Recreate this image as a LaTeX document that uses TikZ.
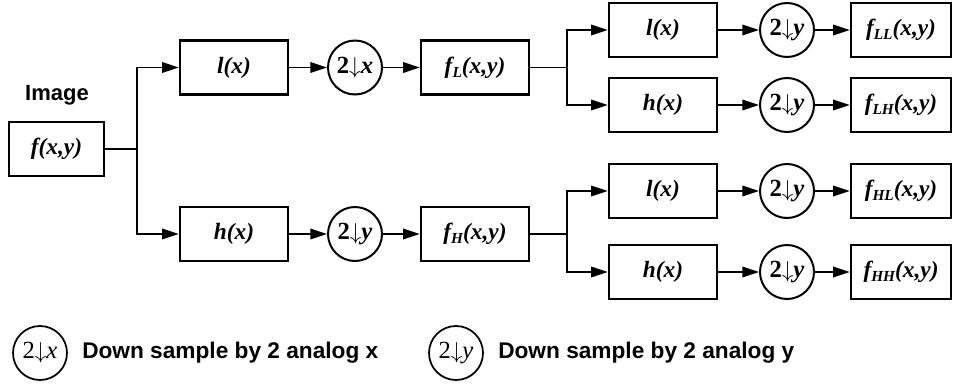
\documentclass[tikz,border=0pt]{standalone}
\usepackage{fontspec}
\setmainfont{Liberation Serif}
\newfontfamily\timesfont{Liberation Serif}[BoldItalicFont={Liberation Serif Bold Italic}]
\newfontfamily\arialfont{Liberation Sans}
\usetikzlibrary{arrows.meta,calc}
\newcommand{\labelfont}{\timesfont\fontsize{17.5}{19}\selectfont\bfseries}
\newcommand{\rondfont}{\timesfont\fontsize{18.5}{20}\selectfont}
\newcommand{\indice}[1]{\raisebox{-0.4ex}{\fontsize{11.5}{12}\selectfont #1}}

\begin{document}
\begin{tikzpicture}[x=0.75pt, y=-0.75pt,
    bloc/.style={draw, line width=2pt, minimum width=81pt, minimum height=40.5pt, inner sep=0pt, font=\labelfont\itshape},
    rond/.style={draw, circle, line width=1.5pt, minimum size=40.5pt, inner sep=0pt, font=\rondfont\bfseries},
    fleche/.style={line width=1pt, -{Triangle[length=12.5pt,width=8pt]}},
    trait/.style={line width=1pt},
    legende/.style={font=\arialfont\bfseries\fontsize{17}{19}\selectfont, anchor=west, inner sep=0pt}]
    \useasboundingbox (0,0) rectangle (953,383);

    % Entree
    \node[font=\arialfont\bfseries\fontsize{16.5}{18}\selectfont] (image) at (57,95) {Image};
    \node[bloc, minimum width=71.25pt] (f) at (56.5,149) {f(x,y)};
    \coordinate (k0) at (137,149);

    % Branche haute
    \node[bloc] (l1) at (234,67.5) {l(x)};
    \node[rond] (d1) at (355,67.5) {2$\downarrow$\textit{x}};
    \node[bloc] (fl) at (475,67.5) {f\indice{L}(x,y)};
    \coordinate (k1) at (567,67.5);

    % Branche basse
    \node[bloc] (h1) at (234,234) {h(x)};
    \node[rond] (d2) at (355,234) {2$\downarrow$\textit{y}};
    \node[bloc] (fh) at (475,234) {f\indice{H}(x,y)};
    \coordinate (k2) at (567,234);

    % Sorties
    \node[bloc] (ll) at (663,30) {l(x)};
    \node[rond] (dll) at (787,30) {2$\downarrow$\textit{y}};
    \node[bloc, minimum width=75pt] (fll) at (901,30) {f\indice{LL}(x,y)};
    \node[bloc] (lh) at (663,105) {h(x)};
    \node[rond] (dlh) at (787,105) {2$\downarrow$\textit{y}};
    \node[bloc, minimum width=75pt] (flh) at (901,105) {f\indice{LH}(x,y)};
    \node[bloc] (hl) at (663,191) {l(x)};
    \node[rond] (dhl) at (787,191) {2$\downarrow$\textit{y}};
    \node[bloc, minimum width=75pt] (fhl) at (901,191) {f\indice{HL}(x,y)};
    \node[bloc] (hh) at (663,272) {h(x)};
    \node[rond] (dhh) at (787,272) {2$\downarrow$\textit{y}};
    \node[bloc, minimum width=75pt] (fhh) at (901,272) {f\indice{HH}(x,y)};

    % Connexions
    \draw[trait] (f) -- (k0);
    \draw[fleche] (k0) |- (l1);
    \draw[fleche] (k0) |- (h1);
    \draw[fleche] (l1) -- (d1);
    \draw[fleche] (d1) -- (fl);
    \draw[fleche] (h1) -- (d2);
    \draw[fleche] (d2) -- (fh);
    \draw[trait] (fl) -- (k1);
    \draw[trait] (fh) -- (k2);
    \draw[fleche] (k1) |- (ll);
    \draw[fleche] (k1) |- (lh);
    \draw[fleche] (k2) |- (hl);
    \draw[fleche] (k2) |- (hh);
    \draw[fleche] (ll) -- (dll);
    \draw[fleche] (dll) -- (fll);
    \draw[fleche] (lh) -- (dlh);
    \draw[fleche] (dlh) -- (flh);
    \draw[fleche] (hl) -- (dhl);
    \draw[fleche] (dhl) -- (fhl);
    \draw[fleche] (hh) -- (dhh);
    \draw[fleche] (dhh) -- (fhh);

    % Legende
    \node[rond, line width=1.3pt, font=\rondfont] (lx) at (40,353) {2$\downarrow$\textit{x}};
    \node[legende] (lxt) at (82,353) {Down sample by 2 analog x};
    \node[rond, line width=1.3pt, font=\rondfont] (ly) at (456,353) {2$\downarrow$\textit{y}};
    \node[legende] (lyt) at (498,353) {Down sample by 2 analog y};
\end{tikzpicture}
\end{document}
